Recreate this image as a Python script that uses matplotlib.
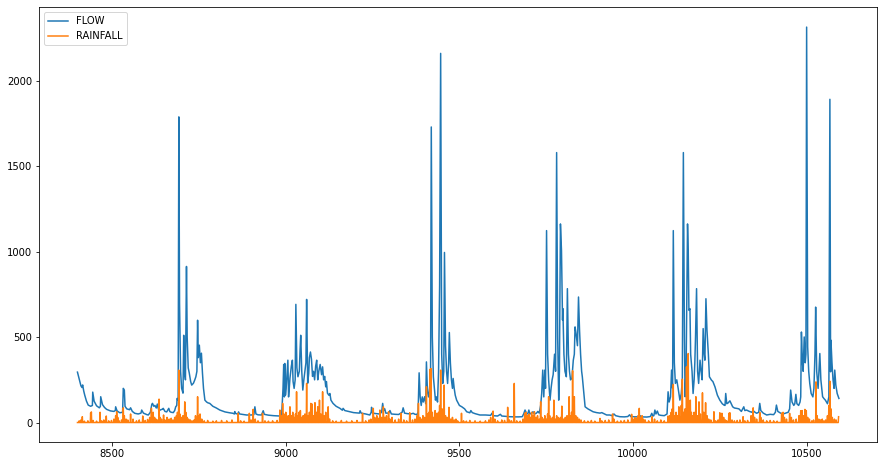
import matplotlib
matplotlib.use("Agg")
import matplotlib.pyplot as plt
import numpy as np

# ── Data (daily index) ──────────────────────────────────────────────────────
flow_days = [
    8400, 8405, 8410, 8413, 8415, 8418, 8421, 8426, 8431, 8438, 8443, 8444, 8448, 8455, 8463, 8466,
    8467, 8472, 8478, 8484, 8495, 8505, 8509, 8510, 8514, 8522, 8530, 8532, 8535, 8537, 8542, 8550,
    8553, 8558, 8565, 8575, 8583, 8585, 8590, 8600, 8604, 8610, 8614, 8616, 8620, 8623, 8627, 8630,
    8633, 8636, 8640, 8645, 8647, 8652, 8657, 8663, 8666, 8670, 8676, 8680, 8683, 8686, 8687, 8690,
    8692, 8694, 8697, 8700, 8704, 8706, 8708, 8711, 8714, 8716, 8719, 8722, 8726, 8729, 8734, 8738,
    8741, 8744, 8746, 8748, 8751, 8754, 8757, 8760, 8763, 8767, 8772, 8776, 8781, 8790, 8800, 8810,
    8825, 8838, 8848, 8852, 8853, 8856, 8862, 8864, 8867, 8880, 8887, 8900, 8908, 8911, 8914, 8920,
    8930, 8935, 8938, 8950, 8965, 8983, 8988, 8990, 8992, 8994, 8996, 8997, 8999, 9001, 9004, 9006,
    9008, 9010, 9012, 9016, 9019, 9021, 9024, 9027, 9029, 9032, 9035, 9039, 9041, 9043, 9046, 9049,
    9052, 9055, 9058, 9060, 9063, 9066, 9068, 9071, 9074, 9077, 9080, 9083, 9086, 9089, 9092, 9095,
    9099, 9103, 9106, 9109, 9112, 9115, 9117, 9120, 9124, 9127, 9130, 9136, 9145, 9156, 9163, 9165,
    9170, 9180, 9185, 9195, 9205, 9212, 9214, 9217, 9230, 9242, 9246, 9247, 9250, 9260, 9270, 9276,
    9279, 9282, 9285, 9288, 9296, 9300, 9304, 9315, 9325, 9335, 9338, 9342, 9350, 9360, 9367, 9372,
    9378, 9381, 9384, 9387, 9390, 9393, 9396, 9400, 9403, 9405, 9408, 9411, 9414, 9417, 9419, 9422,
    9425, 9428, 9431, 9434, 9437, 9440, 9443, 9446, 9449, 9452, 9455, 9457, 9460, 9463, 9466, 9469,
    9471, 9474, 9477, 9480, 9482, 9485, 9488, 9492, 9500, 9507, 9515, 9521, 9530, 9533, 9537, 9545,
    9559, 9575, 9590, 9594, 9597, 9610, 9618, 9622, 9635, 9645, 9660, 9670, 9681, 9685, 9689, 9693,
    9697, 9700, 9703, 9708, 9712, 9716, 9722, 9726, 9730, 9734, 9737, 9740, 9743, 9746, 9748, 9751,
    9754, 9757, 9761, 9764, 9767, 9770, 9774, 9777, 9780, 9783, 9786, 9788, 9791, 9794, 9797, 9798,
    9801, 9804, 9808, 9811, 9814, 9817, 9820, 9824, 9828, 9831, 9833, 9836, 9840, 9843, 9846, 9849,
    9852, 9854, 9857, 9862, 9870, 9876, 9885, 9895, 9905, 9910, 9924, 9933, 9940, 9945, 9950, 9962,
    9975, 9985, 9990, 9994, 10000, 10010, 10020, 10025, 10040, 10050, 10054, 10057, 10060, 10063, 10066, 10070,
    10074, 10080, 10090, 10098, 10101, 10104, 10108, 10111, 10114, 10116, 10119, 10122, 10126, 10130, 10135, 10139,
    10142, 10145, 10148, 10150, 10153, 10157, 10159, 10161, 10164, 10166, 10170, 10173, 10176, 10178, 10180, 10183,
    10186, 10189, 10193, 10196, 10199, 10202, 10205, 10207, 10210, 10213, 10217, 10220, 10226, 10230, 10236, 10243,
    10250, 10257, 10262, 10265, 10267, 10270, 10274, 10279, 10283, 10287, 10292, 10298, 10305, 10312, 10319, 10322,
    10327, 10335, 10342, 10346, 10350, 10356, 10362, 10365, 10368, 10375, 10385, 10395, 10405, 10410, 10413, 10417,
    10425, 10432, 10440, 10447, 10451, 10454, 10458, 10463, 10466, 10469, 10472, 10477, 10481, 10483, 10485, 10488,
    10490, 10493, 10496, 10498, 10500, 10503, 10506, 10509, 10513, 10518, 10521, 10524, 10526, 10529, 10533, 10538,
    10541, 10546, 10550, 10554, 10560, 10564, 10567, 10569, 10570, 10573, 10576, 10579, 10581, 10584, 10588, 10593,
]
flow_vals = [
    295, 255, 215, 205, 220, 185, 160, 125, 102, 95, 100, 178, 125, 98, 86, 95,
    151, 105, 88, 77, 68, 65, 70, 92, 68, 57, 60, 200, 190, 95, 80, 75,
    86, 65, 54, 50, 55, 73, 55, 46, 44, 60, 105, 112, 95, 100, 85, 108,
    80, 70, 75, 78, 83, 65, 62, 83, 64, 60, 58, 70, 92, 100, 141, 130,
    1790, 700, 300, 200, 172, 511, 300, 250, 914, 500, 320, 290, 240, 219, 230, 250,
    268, 300, 599, 380, 453, 350, 406, 290, 200, 131, 120, 115, 112, 95, 85, 73,
    62, 57, 54, 50, 64, 52, 50, 62, 50, 46, 44, 44, 46, 92, 50, 45,
    44, 69, 48, 43, 40, 38, 40, 120, 200, 340, 150, 346, 160, 200, 300, 365,
    150, 200, 260, 330, 365, 240, 200, 250, 692, 320, 268, 300, 420, 511, 300, 190,
    250, 300, 350, 721, 230, 287, 380, 413, 370, 270, 300, 250, 330, 365, 250, 300,
    340, 280, 326, 250, 270, 209, 240, 172, 160, 170, 131, 112, 95, 83, 72, 83,
    70, 65, 63, 58, 56, 55, 69, 55, 50, 44, 60, 89, 55, 52, 50, 60,
    112, 70, 80, 55, 55, 70, 50, 48, 47, 60, 86, 55, 52, 50, 54, 48,
    47, 60, 291, 150, 100, 150, 120, 151, 110, 355, 180, 150, 200, 300, 1731, 500,
    268, 200, 131, 150, 120, 300, 800, 2162, 400, 229, 300, 996, 450, 300, 229, 350,
    527, 350, 250, 200, 258, 200, 160, 131, 100, 92, 80, 63, 57, 70, 58, 52,
    44, 44, 42, 55, 40, 38, 48, 38, 36, 34, 33, 33, 34, 50, 73, 55,
    50, 73, 50, 55, 63, 50, 55, 65, 55, 100, 170, 307, 150, 307, 200, 1124,
    400, 250, 131, 200, 250, 280, 400, 300, 1581, 500, 131, 300, 1163, 1007, 600, 667,
    400, 300, 268, 784, 400, 300, 250, 258, 365, 400, 560, 521, 450, 735, 540, 400,
    300, 268, 200, 92, 80, 73, 63, 58, 55, 58, 44, 44, 40, 50, 40, 34,
    33, 35, 45, 34, 34, 33, 40, 33, 32, 35, 54, 38, 40, 73, 50, 67,
    45, 42, 40, 50, 180, 120, 150, 307, 200, 1124, 350, 229, 250, 200, 131, 170,
    250, 1581, 500, 151, 326, 1163, 1007, 657, 667, 400, 300, 170, 250, 350, 500, 784,
    300, 229, 365, 300, 250, 550, 400, 365, 725, 540, 400, 268, 248, 240, 209, 160,
    131, 110, 102, 100, 170, 110, 115, 127, 110, 92, 85, 83, 80, 65, 92, 70,
    73, 65, 60, 70, 62, 54, 60, 112, 70, 55, 44, 48, 46, 60, 102, 65,
    55, 50, 55, 60, 80, 190, 120, 100, 110, 165, 110, 100, 120, 150, 530, 350,
    300, 501, 350, 400, 2316, 443, 300, 229, 170, 150, 200, 400, 676, 300, 200, 404,
    250, 151, 140, 131, 110, 150, 1893, 297, 482, 350, 250, 200, 307, 220, 170, 141,
]

rain_days = [
    8405, 8410, 8414, 8420, 8430, 8438, 8440, 8445, 8455, 8465, 8470, 8476, 8483, 8490, 8498, 8505,
    8510, 8513, 8516, 8520, 8527, 8532, 8535, 8540, 8545, 8553, 8560, 8570, 8578, 8588, 8595, 8602,
    8608, 8613, 8615, 8618, 8622, 8626, 8630, 8635, 8638, 8642, 8648, 8652, 8658, 8664, 8670, 8675,
    8680, 8685, 8688, 8692, 8695, 8700, 8704, 8709, 8712, 8716, 8720, 8725, 8730, 8736, 8740, 8746,
    8750, 8753, 8758, 8765, 8775, 8790, 8800, 8815, 8830, 8845, 8863, 8870, 8880, 8895, 8900, 8906,
    8912, 8920, 8933, 8940, 8950, 8962, 8975, 8983, 8988, 8991, 8995, 9000, 9003, 9007, 9012, 9016,
    9020, 9024, 9028, 9031, 9034, 9038, 9042, 9046, 9050, 9055, 9060, 9063, 9068, 9072, 9076, 9080,
    9084, 9088, 9092, 9097, 9101, 9106, 9110, 9115, 9122, 9126, 9135, 9145, 9160, 9175, 9190, 9205,
    9221, 9230, 9240, 9245, 9252, 9256, 9262, 9266, 9271, 9276, 9281, 9285, 9290, 9296, 9300, 9306,
    9315, 9325, 9332, 9340, 9348, 9357, 9365, 9372, 9378, 9382, 9386, 9390, 9395, 9400, 9405, 9408,
    9412, 9415, 9418, 9422, 9426, 9430, 9435, 9440, 9443, 9446, 9450, 9453, 9456, 9460, 9465, 9470,
    9475, 9480, 9485, 9490, 9495, 9506, 9512, 9520, 9530, 9545, 9560, 9575, 9585, 9590, 9597, 9602,
    9610, 9622, 9630, 9639, 9644, 9650, 9658, 9665, 9675, 9683, 9688, 9692, 9696, 9700, 9704, 9708,
    9712, 9716, 9720, 9725, 9730, 9734, 9738, 9742, 9746, 9750, 9754, 9757, 9760, 9764, 9768, 9772,
    9776, 9780, 9784, 9788, 9791, 9795, 9800, 9805, 9810, 9816, 9820, 9823, 9826, 9829, 9831, 9835,
    9840, 9845, 9850, 9860, 9870, 9880, 9890, 9905, 9910, 9920, 9930, 9941, 9945, 9955, 9965, 9975,
    9985, 9996, 10000, 10005, 10010, 10015, 10018, 10022, 10026, 10030, 10035, 10045, 10055, 10062, 10070, 10080,
    10090, 10101, 10106, 10110, 10113, 10116, 10120, 10124, 10128, 10132, 10136, 10139, 10142, 10146, 10150, 10154,
    10159, 10162, 10165, 10168, 10172, 10176, 10181, 10185, 10190, 10194, 10200, 10204, 10209, 10213, 10218, 10224,
    10233, 10238, 10245, 10250, 10256, 10261, 10266, 10270, 10276, 10279, 10285, 10292, 10300, 10308, 10317, 10322,
    10330, 10340, 10346, 10350, 10356, 10365, 10368, 10375, 10385, 10395, 10405, 10415, 10428, 10432, 10436, 10442,
    10451, 10456, 10462, 10470, 10478, 10483, 10487, 10490, 10495, 10499, 10503, 10508, 10515, 10520, 10527, 10530,
    10535, 10540, 10545, 10550, 10555, 10560, 10564, 10567, 10570, 10574, 10580, 10585, 10592,
]
rain_vals = [
    10, 15, 34, 8, 10, 57, 62, 12, 8, 60, 10, 15, 38, 10, 12, 20,
    40, 63, 30, 10, 15, 86, 40, 20, 15, 50, 20, 10, 15, 38, 12, 18,
    30, 83, 40, 60, 30, 20, 15, 137, 30, 20, 44, 15, 30, 20, 25, 15,
    30, 40, 60, 307, 50, 30, 40, 121, 60, 30, 20, 15, 10, 15, 40, 151,
    40, 50, 20, 10, 12, 8, 10, 12, 10, 15, 54, 10, 8, 54, 15, 77,
    20, 10, 54, 10, 8, 10, 12, 73, 40, 112, 50, 60, 30, 40, 92, 40,
    60, 30, 50, 180, 40, 60, 70, 30, 40, 50, 229, 40, 60, 112, 108, 40,
    116, 60, 92, 131, 50, 180, 40, 60, 92, 20, 10, 8, 12, 8, 10, 12,
    54, 10, 15, 20, 83, 30, 40, 25, 73, 30, 92, 30, 40, 63, 20, 30,
    15, 20, 54, 15, 10, 57, 15, 20, 40, 112, 30, 20, 40, 30, 209, 50,
    60, 311, 316, 60, 30, 70, 54, 60, 100, 307, 80, 60, 219, 40, 30, 89,
    20, 30, 15, 20, 10, 54, 10, 8, 12, 10, 8, 10, 15, 30, 67, 20,
    10, 15, 12, 89, 15, 10, 229, 10, 8, 20, 54, 60, 40, 50, 30, 60,
    40, 63, 30, 40, 20, 121, 30, 20, 40, 20, 50, 151, 40, 20, 30, 131,
    20, 40, 30, 20, 30, 96, 20, 30, 40, 151, 40, 60, 303, 100, 151, 40,
    30, 20, 15, 10, 8, 12, 8, 24, 10, 12, 15, 50, 20, 8, 10, 12,
    15, 48, 20, 30, 25, 40, 83, 30, 40, 20, 15, 10, 34, 20, 10, 15,
    10, 38, 40, 60, 80, 223, 40, 60, 40, 92, 30, 100, 254, 60, 80, 326,
    404, 100, 131, 60, 40, 60, 151, 40, 121, 50, 174, 60, 116, 40, 20, 15,
    63, 10, 15, 57, 54, 30, 15, 10, 54, 57, 15, 10, 12, 15, 34, 10,
    12, 40, 86, 30, 20, 60, 30, 15, 10, 12, 10, 8, 54, 60, 30, 20,
    54, 30, 15, 20, 40, 69, 70, 40, 77, 70, 30, 20, 10, 15, 238, 40,
    20, 15, 20, 10, 15, 40, 100, 242, 80, 30, 20, 15, 34,
]

# daily rainfall: zero on days with no recorded rain
days = np.arange(8400, 10593)
rain = np.zeros(len(days))
rain[np.array(rain_days) - days[0]] = rain_vals

# ── Figure ──────────────────────────────────────────────────────────────────
fig, ax = plt.subplots(figsize=(883 / 72, 466 / 72), dpi=72)
fig.subplots_adjust(left=0.0446, right=0.9932, top=0.9843, bottom=0.0509)

ax.plot(flow_days, flow_vals, label="FLOW")
ax.plot(days, rain, label="RAINFALL")
ax.legend(loc="upper left")

plt.savefig("out.png", dpi=72)
